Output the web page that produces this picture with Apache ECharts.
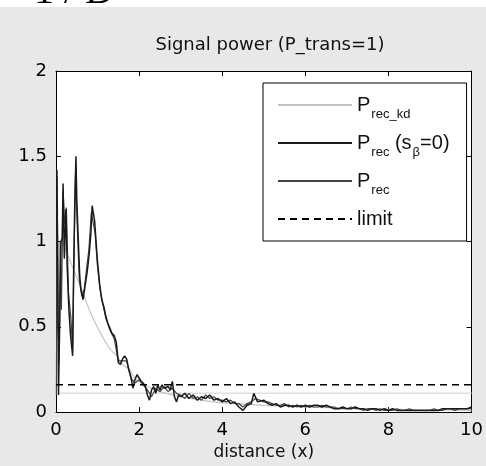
<!DOCTYPE html>
<html>
<head>
<meta charset="utf-8">
<script src="https://cdn.jsdelivr.net/npm/echarts@6/dist/echarts.min.js"></script>
<style>
  html, body { margin: 0; padding: 0; background: #fff; }
  #main { width: 486px; height: 466px; }
</style>
</head>
<body>
<div id="main"></div>
<script>
  // tick labels / ranges
  var xTicks = [0, 2, 4, 6, 8, 10];
  var yTicks = [0, 0.5, 1, 1.5, 2];
  var legendNames = ['P_rec_kd', 'P_rec (s_β=0)', 'P_rec', 'limit'];

  // P_rec_kd : smooth decay (light gray)
  var precKd = [
    [0.15, 1.0], [0.3, 0.91], [0.5, 0.79], [0.65, 0.70], [0.8, 0.60], [0.95, 0.52],
    [1.1, 0.45], [1.3, 0.37], [1.46, 0.33], [1.6, 0.28], [1.77, 0.25], [1.93, 0.19],
    [2.2, 0.15], [2.5, 0.12], [3.0, 0.09], [3.5, 0.07], [4.0, 0.055], [5.0, 0.04],
    [6.0, 0.03], [7.0, 0.022], [8.0, 0.017], [9.0, 0.013], [10.0, 0.01]
  ];

  // P_rec (s_beta = 0) : black
  var precS0 = [
    [0.02, 1.38], [0.04, 0.9], [0.06, 0.1], [0.09, 0.55], [0.12, 1.0], [0.15, 1.02],
    [0.17, 1.34], [0.2, 0.9], [0.24, 1.19], [0.27, 0.85], [0.31, 0.6], [0.35, 0.45],
    [0.4, 0.33], [0.42, 0.75], [0.45, 1.21], [0.48, 1.5], [0.5, 1.25], [0.53, 1.05],
    [0.57, 0.8], [0.6, 0.72], [0.65, 0.66], [0.7, 0.74], [0.75, 0.82], [0.8, 0.93],
    [0.84, 1.05], [0.87, 1.21], [0.9, 1.22], [0.93, 1.12], [0.97, 0.98], [1.0, 0.88],
    [1.05, 0.75], [1.1, 0.66], [1.15, 0.62], [1.2, 0.56], [1.25, 0.52], [1.3, 0.49],
    [1.35, 0.46], [1.4, 0.45], [1.45, 0.41], [1.5, 0.29], [1.55, 0.28], [1.6, 0.31],
    [1.65, 0.33], [1.7, 0.31], [1.75, 0.25], [1.8, 0.21], [1.85, 0.14], [1.9, 0.19],
    [1.95, 0.22], [2.0, 0.2], [2.05, 0.18], [2.1, 0.17], [2.15, 0.15], [2.2, 0.1],
    [2.25, 0.07], [2.3, 0.13], [2.35, 0.15], [2.4, 0.11], [2.45, 0.16], [2.5, 0.13],
    [2.55, 0.16], [2.6, 0.14], [2.7, 0.15], [2.75, 0.13], [2.8, 0.18], [2.85, 0.09],
    [2.9, 0.06], [2.95, 0.1],
    [3.0, 0.09], [3.1, 0.11], [3.2, 0.08], [3.3, 0.10], [3.4, 0.07], [3.5, 0.09], [3.6, 0.08], [3.7, 0.10], [3.8, 0.07], [3.9, 0.08],
    [4.0, 0.06], [4.1, 0.08], [4.2, 0.05], [4.3, 0.06], [4.4, 0.03], [4.5, 0.01], [4.6, 0.04], [4.7, 0.05], [4.76, 0.11], [4.85, 0.06],
    [5.0, 0.07], [5.1, 0.05], [5.2, 0.04], [5.3, 0.05], [5.4, 0.03], [5.5, 0.04], [5.6, 0.04], [5.7, 0.03], [5.8, 0.04], [5.9, 0.03],
    [6.0, 0.04], [6.1, 0.03], [6.2, 0.04], [6.3, 0.04], [6.4, 0.03], [6.5, 0.04], [6.6, 0.03], [6.7, 0.02], [6.8, 0.02], [6.9, 0.03],
    [7.0, 0.02], [7.1, 0.02], [7.2, 0.03], [7.3, 0.02], [7.4, 0.02], [7.5, 0.01], [7.6, 0.02], [7.7, 0.02], [7.8, 0.01], [7.9, 0.02],
    [8.0, 0.01], [8.1, 0.02], [8.2, 0.01], [8.3, 0.01], [8.4, 0.01], [8.5, 0.01], [8.6, 0.01], [8.7, 0.01], [8.8, 0.01], [8.9, 0.01],
    [9.0, 0.01], [9.1, 0.01], [9.2, 0.01], [9.3, 0.02], [9.4, 0.02], [9.5, 0.02], [9.6, 0.02], [9.7, 0.02], [9.8, 0.02], [9.9, 0.02], [10.0, 0.03]
  ];

  // P_rec : dark gray
  var prec = [
    [0.01, 0.1], [0.03, 1.42], [0.05, 0.5], [0.08, 0.3], [0.1, 1.0], [0.13, 0.6],
    [0.17, 1.3], [0.21, 1.1], [0.25, 1.2], [0.3, 0.7], [0.36, 0.55], [0.4, 0.36],
    [0.44, 1.0], [0.47, 1.4], [0.51, 1.1], [0.56, 0.78], [0.62, 0.68], [0.68, 0.72],
    [0.74, 0.85], [0.79, 0.95], [0.85, 1.17], [0.89, 1.18], [0.94, 1.05], [1.0, 0.85],
    [1.06, 0.72], [1.12, 0.64], [1.2, 0.55], [1.3, 0.48], [1.4, 0.43], [1.5, 0.3],
    [1.6, 0.3], [1.7, 0.3], [1.8, 0.2], [1.9, 0.17], [2.0, 0.19], [2.1, 0.16],
    [2.2, 0.13], [2.3, 0.09], [2.4, 0.14], [2.5, 0.12], [2.6, 0.15], [2.7, 0.12],
    [2.8, 0.14], [2.9, 0.11],
    [3.0, 0.10], [3.1, 0.08], [3.2, 0.11], [3.3, 0.08], [3.4, 0.09], [3.5, 0.07], [3.6, 0.10], [3.7, 0.08], [3.8, 0.09], [3.9, 0.07],
    [4.0, 0.07], [4.1, 0.06], [4.2, 0.07], [4.3, 0.05], [4.4, 0.05], [4.5, 0.03], [4.6, 0.05], [4.7, 0.06], [4.8, 0.08], [4.9, 0.07],
    [5.0, 0.06], [5.1, 0.06], [5.2, 0.05], [5.3, 0.04], [5.4, 0.04], [5.5, 0.05], [5.6, 0.03], [5.7, 0.04], [5.8, 0.03], [5.9, 0.04],
    [6.0, 0.03], [6.1, 0.04], [6.2, 0.03], [6.3, 0.03], [6.4, 0.04], [6.5, 0.03], [6.6, 0.03], [6.7, 0.03], [6.8, 0.02], [6.9, 0.02],
    [7.0, 0.02], [7.1, 0.03], [7.2, 0.02], [7.3, 0.02], [7.4, 0.01], [7.5, 0.02], [7.6, 0.02], [7.7, 0.01], [7.8, 0.02], [7.9, 0.01],
    [8.0, 0.01], [8.1, 0.01], [8.2, 0.02], [8.3, 0.01], [8.4, 0.01], [8.5, 0.02], [8.6, 0.01], [8.7, 0.01], [8.8, 0.01], [8.9, 0.01],
    [9.0, 0.01], [9.1, 0.02], [9.2, 0.01], [9.3, 0.01], [9.4, 0.02], [9.5, 0.02], [9.6, 0.01], [9.7, 0.02], [9.8, 0.02], [9.9, 0.02], [10.0, 0.02]
  ];

  // limit and the faint reference level
  var limitLine = [[0, 0.16], [10, 0.16]];
  var faintLine = [[0.05, 0.11], [10, 0.11]];

  var legendRich = {
    'P_rec_kd': '{p|P}{s|rec_kd}',
    'P_rec (s_β=0)': '{p|P}{s|rec}{p| (s}{s|β}{p|=0)}',
    'P_rec': '{p|P}{s|rec}',
    'limit': '{p|limit}'
  };

  var axisFont = { color: '#000', fontFamily: 'DejaVu Sans', fontSize: 18 };

  var myChart = echarts.init(document.getElementById('main'));
  myChart.setOption({
    animation: false,
    backgroundColor: '#fff',
    graphic: [
      {
        type: 'text', z: -20,
        style: { text: '1 / D', x: 34, y: -28, font: '40px "Liberation Serif"', fill: '#000' }
      },
      {
        type: 'rect', z: -10,
        shape: { x: 0, y: 7, width: 486, height: 459 },
        style: { fill: '#e8e8e8' }
      }
    ],
    title: {
      text: 'Signal power (P_trans=1)',
      left: 265, top: 31, textAlign: 'center',
      textStyle: { color: '#111', fontFamily: 'DejaVu Sans', fontSize: 18, fontWeight: 'normal' }
    },
    grid: {
      left: 56, right: 11, top: 71, bottom: 53,
      show: true, backgroundColor: '#fff', borderWidth: 0
    },
    legend: {
      data: legendNames,
      orient: 'vertical',
      left: 263, top: 83,
      padding: [12, 17, 12, 14],
      itemGap: 12,
      itemWidth: 74, itemHeight: 14,
      itemStyle: { opacity: 0 },
      backgroundColor: '#fff',
      borderColor: '#000', borderWidth: 1,
      borderRadius: 0,
      formatter: function (name) { return legendRich[name]; },
      textStyle: {
        color: '#111', fontFamily: 'Liberation Sans', fontSize: 20,
        rich: {
          p: { fontFamily: 'Liberation Sans', fontSize: 20, color: '#111' },
          s: { fontFamily: 'Liberation Sans', fontSize: 13, color: '#111', padding: [19, 0, 0, 1] }
        }
      }
    },
    xAxis: [
      {
        type: 'value', min: xTicks[0], max: xTicks[xTicks.length - 1], interval: 2,
        position: 'bottom',
        axisLine: { onZero: false, lineStyle: { color: '#000', width: 1 } },
        axisTick: { inside: true, length: 5, lineStyle: { color: '#000' } },
        axisLabel: Object.assign({ margin: 9 }, axisFont),
        splitLine: { show: false },
        name: 'distance (x)', nameLocation: 'middle', nameGap: 29,
        nameTextStyle: { color: '#111', fontFamily: 'DejaVu Sans', fontSize: 17 }
      },
      {
        type: 'value', min: xTicks[0], max: xTicks[xTicks.length - 1], interval: 2,
        position: 'top',
        axisLine: { onZero: false, lineStyle: { color: '#000', width: 1 } },
        axisTick: { inside: true, length: 5, lineStyle: { color: '#000' } },
        axisLabel: { show: false },
        splitLine: { show: false }
      }
    ],
    yAxis: [
      {
        type: 'value', min: yTicks[0], max: yTicks[yTicks.length - 1], interval: 0.5,
        position: 'left',
        axisLine: { show: true, onZero: false, lineStyle: { color: '#000', width: 1 } },
        axisTick: { show: true, inside: true, length: 5, lineStyle: { color: '#000' } },
        axisLabel: Object.assign({ margin: 9 }, axisFont),
        splitLine: { show: false }
      },
      {
        type: 'value', min: yTicks[0], max: yTicks[yTicks.length - 1], interval: 0.5,
        position: 'right',
        axisLine: { show: true, onZero: false, lineStyle: { color: '#000', width: 1 } },
        axisTick: { show: true, inside: true, length: 5, lineStyle: { color: '#000' } },
        axisLabel: { show: false },
        splitLine: { show: false }
      }
    ],
    series: [
      {
        name: 'faint', type: 'line', data: faintLine, symbol: 'none',
        lineStyle: { color: '#dedede', width: 1.5 }, itemStyle: { color: '#dedede' }, silent: true
      },
      {
        name: 'P_rec_kd', type: 'line', data: precKd, symbol: 'none', smooth: 0.3,
        lineStyle: { color: '#c4c4c4', width: 1.2 }, itemStyle: { color: '#c4c4c4' }
      },
      {
        name: 'P_rec', type: 'line', data: prec, symbol: 'none',
        lineStyle: { color: '#444', width: 1.2 }, itemStyle: { color: '#444' }
      },
      {
        name: 'P_rec (s_β=0)', type: 'line', data: precS0, symbol: 'none',
        lineStyle: { color: '#1a1a1a', width: 1.5 }, itemStyle: { color: '#1a1a1a' }
      },
      {
        name: 'limit', type: 'line', data: limitLine, symbol: 'none',
        lineStyle: { color: '#000', width: 1.6, type: [7, 5] }, itemStyle: { color: '#000' }
      }
    ]
  });

  window.addEventListener('resize', function () {
    myChart.resize();
  });
</script>
</body>
</html>
